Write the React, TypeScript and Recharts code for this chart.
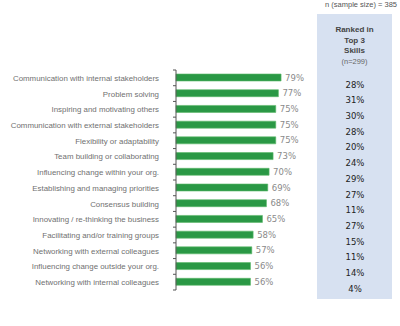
import React from "react";
import { BarChart, Bar, XAxis, YAxis, LabelList } from "recharts";

const skills = [
  "Communication with internal stakeholders",
  "Problem solving",
  "Inspiring and motivating others",
  "Communication with external stakeholders",
  "Flexibility or adaptability",
  "Team building or collaborating",
  "Influencing change within your org.",
  "Establishing and managing priorities",
  "Consensus building",
  "Innovating / re-thinking the business",
  "Facilitating and/or training groups",
  "Networking with external colleagues",
  "Influencing change outside your org.",
  "Networking with internal colleagues",
];
const important = [79, 77, 75, 75, 75, 73, 70, 69, 68, 65, 58, 57, 56, 56];
const rankedTop3 = [28, 31, 30, 28, 20, 24, 29, 27, 11, 27, 15, 11, 14, 4];

const data = skills.map((skill, i) => ({
  skill,
  value: important[i],
  ranked: rankedTop3[i],
}));

const FONT = "'Liberation Sans', Arial, sans-serif";
const TOP = 70;
const BOTTOM = 290;
const BAND = (BOTTOM - TOP) / skills.length;

// label at band centre, tick mark at the band's top edge (and bottom for the last)
const SkillTick = (props: any) => {
  const { x, y, payload, index } = props;
  const axisX = x;
  return (
    <g>
      <line x1={axisX - 3} x2={axisX} y1={y - BAND / 2} y2={y - BAND / 2} stroke="#555" />
      {index === skills.length - 1 && (
        <line x1={axisX - 3} x2={axisX} y1={y + BAND / 2} y2={y + BAND / 2} stroke="#555" />
      )}
      <text
        x={axisX - 17}
        y={y}
        dy={3}
        textAnchor="end"
        fill="#707070"
        fontSize={7.9}
        fontFamily={FONT}
      >
        {payload.value}
      </text>
    </g>
  );
};

const RankedLabel = (props: any) => {
  const { y, height, value } = props;
  return (
    <text
      x={355}
      y={y + height / 2 + 10}
      textAnchor="middle"
      fill="#222"
      fontSize={8.5}
      fontFamily="Tahoma, 'DejaVu Sans', sans-serif"
    >
      {`${value}%`}
    </text>
  );
};

export default function App() {
  return (
    <div
      style={{
        position: "absolute",
        left: 0,
        top: 0,
        width: 400,
        height: 326,
        background: "#fff",
        fontFamily: FONT,
      }}
    >
      <div
        style={{
          position: "absolute",
          left: 317,
          top: 14,
          width: 75,
          height: 285,
          background: "#d7e1f1",
        }}
      />
      <div
        style={{
          position: "absolute",
          right: 3,
          top: 0,
          fontSize: 7.5,
          color: "#555",
          whiteSpace: "nowrap",
        }}
      >
        n (sample size) = 385
      </div>
      <div
        style={{
          position: "absolute",
          left: 317,
          top: 25,
          width: 75,
          textAlign: "center",
          fontSize: 8,
          lineHeight: "10.5px",
          color: "#444",
        }}
      >
        <div style={{ fontWeight: "bold" }}>Ranked in</div>
        <div style={{ fontWeight: "bold" }}>Top 3</div>
        <div style={{ fontWeight: "bold" }}>Skills</div>
        <div style={{ color: "#666", fontSize: 7.5 }}>(n=299)</div>
      </div>
      <div style={{ position: "absolute", left: 0, top: 0 }}>
        <BarChart
          width={400}
          height={326}
          data={data}
          layout="vertical"
          margin={{ top: TOP, right: 91, bottom: 326 - BOTTOM, left: 0 }}
        >
          <XAxis type="number" domain={[0, 100]} hide />
          <YAxis
            type="category"
            dataKey="skill"
            width={176}
            axisLine={{ stroke: "#555" }}
            tickLine={false}
            tickMargin={0}
            tickSize={0}
            interval={0}
            tick={<SkillTick />}
          />
          <Bar
            dataKey="value"
            fill="#2a9845"
            stroke="#5cb86a"
            strokeWidth={0.6}
            barSize={7}
            isAnimationActive={false}
          >
            <LabelList
              dataKey="value"
              position="right"
              offset={4}
              fill="#8a8a8a"
              fontSize={8.5}
              fontFamily="Tahoma, 'DejaVu Sans', sans-serif"
              formatter={(v: any) => `${v}%`}
            />
            <LabelList dataKey="ranked" content={<RankedLabel />} />
          </Bar>
        </BarChart>
      </div>
    </div>
  );
}
